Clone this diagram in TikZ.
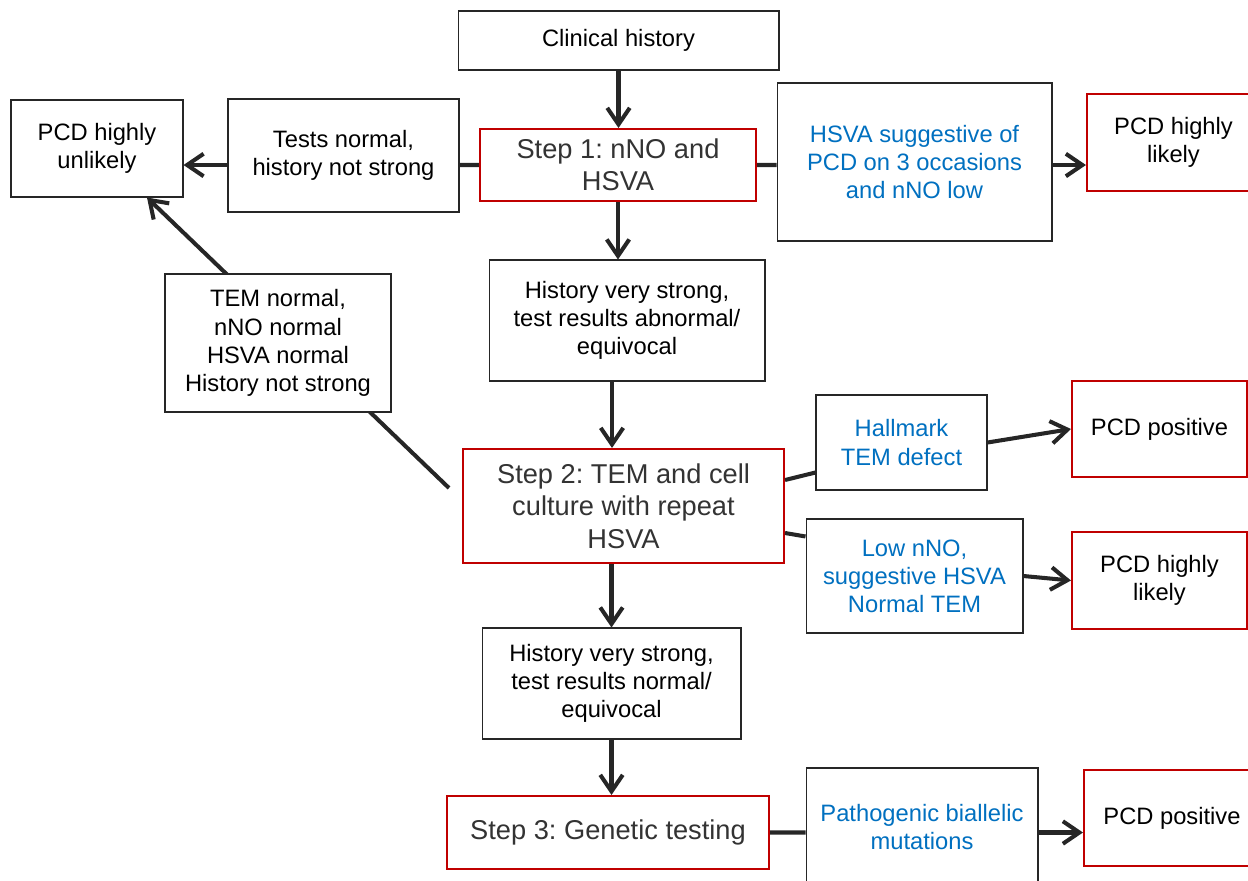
\documentclass[tikz,border=0pt]{standalone}
\usepackage{fontspec}
\setmainfont{Liberation Sans}
\usetikzlibrary{arrows.meta,backgrounds}
\definecolor{stepred}{RGB}{192,0,0}
\definecolor{noteblue}{RGB}{0,112,192}
\frenchspacing
\tikzset{
  box size/.style 2 args={minimum width=#1cm,minimum height=#2cm},
  plain box/.style={draw=black!85,line width=.6pt,fill=white,align=center,inner sep=1pt,
    font=\fontsize{13.5}{16}\selectfont},
  step box/.style={plain box,draw=stepred,line width=1.2pt,text=black!80,
    font=\fontsize{15.5}{18.5}\selectfont},
  outcome box/.style={plain box,draw=stepred,line width=1.2pt},
  note box/.style={plain box,text=noteblue},
  link/.style={line width=2.3pt,draw=black!85},
  link arrow/.style={link,-{Straight Barb[length=3.3mm,width=4.5mm]}}
}

\begin{document}
\begin{tikzpicture}[x=0.02cm,y=-0.02cm]
  \useasboundingbox (0,0) rectangle (1248,880);

  \node[plain box,box size={6.42}{1.18}] (clin) at (618.5,40.5) {Clinical history};
  \node[step box,box size={5.52}{1.44}] (s1) at (618,165) {Step 1: nNO and\\HSVA};
  \node[plain box,box size={4.62}{2.26}] (tn) at (343.5,155.5) {Tests normal,\\history not strong};
  \node[plain box,box size={3.44}{1.94}] (unl) at (97,148.5) {PCD highly\\unlikely};
  \node[note box,box size={5.5}{3.16}] (hsva) at (914.5,162) {HSVA suggestive of\\PCD on 3 occasions\\and nNO low};
  \node[outcome box,box size={3.46}{1.94}] (lik1) at (1173.5,142.5) {PCD highly\\likely};
  \node[plain box,box size={5.52}{2.42}] (hab) at (627,320.5) {History very strong,\\test results abnormal/\\equivocal};
  \node[plain box,box size={4.52}{2.76}] (tem) at (278,343) {TEM normal,\\nNO normal\\HSVA normal\\History not strong};
  \node[step box,box size={6.42}{2.28}] (s2) at (623.5,506) {Step 2: TEM and cell\\culture with repeat\\HSVA};
  \node[note box,box size={3.42}{1.9}] (hall) at (901.5,442.5) {Hallmark\\TEM defect};
  \node[outcome box,box size={3.5}{1.92}] (pos1) at (1159.5,429) {PCD positive};
  \node[note box,box size={4.34}{2.28}] (low) at (914.5,576) {Low nNO,\\suggestive HSVA\\Normal TEM};
  \node[outcome box,box size={3.5}{1.94}] (lik2) at (1159.5,580.5) {PCD highly\\likely};
  \node[plain box,box size={5.18}{2.22}] (hn) at (611.5,683.5) {History very strong,\\test results normal/\\equivocal};
  \node[step box,box size={6.44}{1.46}] (s3) at (608,832.5) {Step 3: Genetic testing};
  \node[note box,box size={4.64}{2.36}] (path) at (922,827) {Pathogenic biallelic\\mutations};
  \node[outcome box,box size={3.52}{1.92}] (pos2) at (1172,818) {PCD positive};

  \draw[link] (s1.west) -- (s1.west -| tn.east)
        (s1.east) -- (s1.east -| hsva.west)
        ([yshift=0.52cm]s2.east) -- ([yshift=-0.6cm]hall.west)
        ([yshift=-0.54cm]s2.east) -- ([yshift=-0.36cm]low.north west)
        (s3.east) -- (s3.east -| path.west);

  \draw[link arrow] (clin.south) -- (clin.south |- s1.north);
  \draw[link arrow] (tn.west |- s1.west) -- (unl.east |- s1.west);
  \draw[link arrow] (hsva.east |- s1.east) -- (lik1.west |- s1.east);
  \draw[link arrow] (s1.south) -- (s1.south |- hab.north);
  \draw[link arrow] ([xshift=-0.3cm]hab.south) -- ([xshift=-0.3cm]hab.south |- s2.north);
  \draw[link arrow] (hn.north |- s2.south) -- (hn.north);
  \draw[link arrow] (hn.south) -- (hn.south |- s3.north);
  \draw[link arrow] (hall.east) -- (pos1.west);
  \draw[link arrow] (low.east) -- (lik2.west);
  \draw[link arrow] (path.east |- s3.east) -- (pos2.west |- s3.east);

  \begin{scope}[on background layer]
    \draw[link arrow] ([xshift=-0.26cm,yshift=0.36cm]s2.west) -- ([xshift=1cm]unl.south);
  \end{scope}
\end{tikzpicture}
\end{document}
